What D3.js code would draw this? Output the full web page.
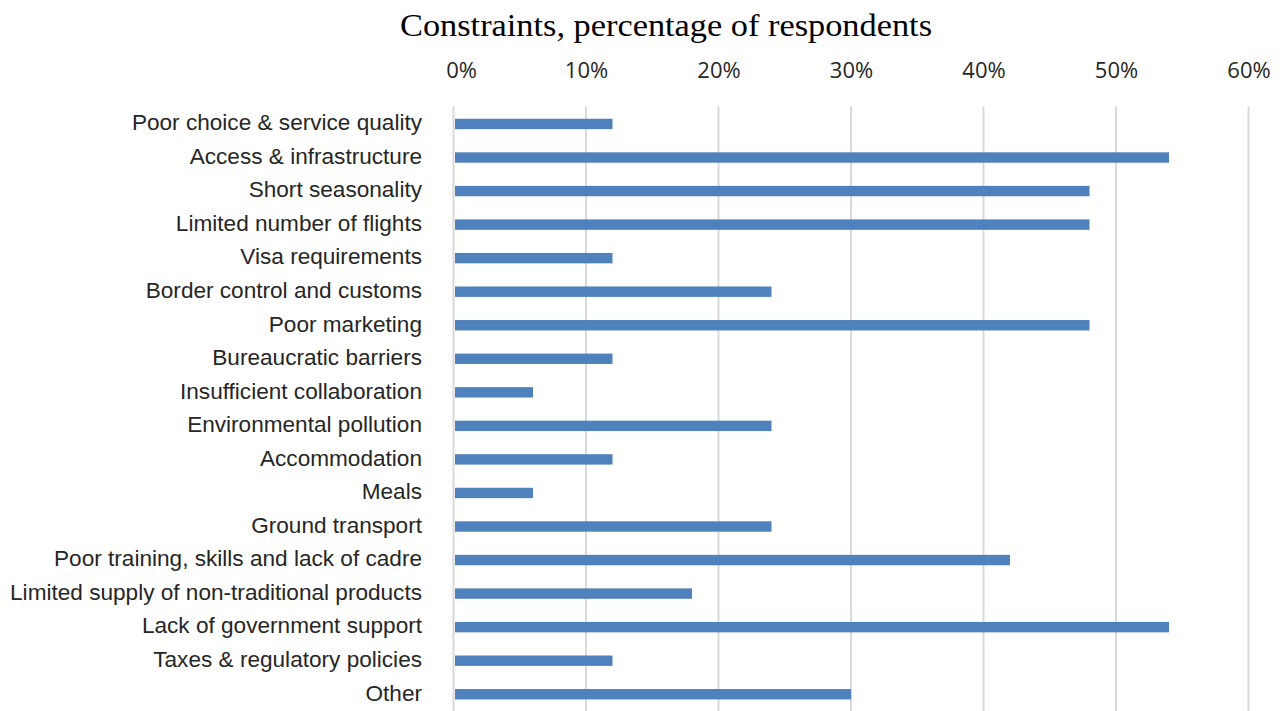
<!DOCTYPE html>
<html>
<head>
<meta charset="utf-8">
<script src="https://cdn.jsdelivr.net/npm/d3@7"></script>
<style>
  html, body { margin: 0; padding: 0; background: #fff; }
  svg { display: block; }
</style>
</head>
<body>
<svg id="chart" width="1280" height="711"></svg>
<script>
// Constraints reported by respondents, share in percent
const categories = [
  "Poor choice & service quality",
  "Access & infrastructure",
  "Short seasonality",
  "Limited number of flights",
  "Visa requirements",
  "Border control and customs",
  "Poor marketing",
  "Bureaucratic barriers",
  "Insufficient collaboration",
  "Environmental pollution",
  "Accommodation",
  "Meals",
  "Ground transport",
  "Poor training, skills and lack of cadre",
  "Limited supply of non-traditional products",
  "Lack of government support",
  "Taxes & regulatory policies",
  "Other"
];
const values = [12, 54, 48, 48, 12, 24, 48, 12, 6, 24, 12, 6, 24, 42, 18, 54, 12, 30];
const tickValues = [0, 10, 20, 30, 40, 50, 60];
const title = "Constraints, percentage of respondents";

const svg = d3.select("#chart");
const plotLeft = 453.5, plotRight = 1248.5, plotTop = 107.2, plotBottom = 711;

const x = d3.scaleLinear().domain([0, 60]).range([plotLeft, plotRight]);
const y = d3.scaleBand().domain(categories).range([plotTop, plotBottom]).paddingInner(0.69).paddingOuter(0.345);

// title
svg.append("text")
  .attr("x", 666).attr("y", 35.5)
  .attr("text-anchor", "middle")
  .attr("font-family", "'Liberation Serif', serif")
  .attr("font-size", 32)
  .attr("fill", "#000")
  .attr("textLength", 532)
  .attr("lengthAdjust", "spacingAndGlyphs")
  .text(title);

// vertical gridlines
svg.append("g")
  .selectAll("line")
  .data(tickValues)
  .join("line")
  .attr("x1", d => x(d)).attr("x2", d => x(d))
  .attr("y1", plotTop - 1).attr("y2", plotBottom)
  .attr("stroke", "#d9d9d9")
  .attr("stroke-width", 2);

// top axis labels (the 0% label sits a little right of its gridline)
const xAxis = d3.axisTop(x).tickValues(tickValues).tickFormat(d => d + "%").tickSize(0).tickPadding(0);
const gx = svg.append("g").attr("transform", "translate(0,77.5)").call(xAxis);
gx.select(".domain").remove();
gx.selectAll("text")
  .attr("font-family", "'Open Sans', sans-serif")
  .attr("font-size", 22)
  .attr("fill", "#262626")
  .attr("dx", d => d === 0 ? 7.5 : 0);

// category labels
const yAxis = d3.axisLeft(y).tickSize(0).tickPadding(0);
const gy = svg.append("g").attr("transform", "translate(422,0)").call(yAxis);
gy.select(".domain").remove();
gy.selectAll("text")
  .attr("font-family", "'Liberation Sans', Arial, sans-serif")
  .attr("font-size", 22.6)
  .attr("fill", "#262626")
  .attr("dy", "0.28em");

// bars
svg.append("g")
  .selectAll("rect")
  .data(categories.map((c, i) => ({ c, v: values[i] })))
  .join("rect")
  .attr("x", x(0) + 1.5)
  .attr("y", d => y(d.c))
  .attr("width", d => x(d.v) - x(0) - 1.5)
  .attr("height", y.bandwidth())
  .attr("fill", "#4f81bd");
</script>
</body>
</html>
